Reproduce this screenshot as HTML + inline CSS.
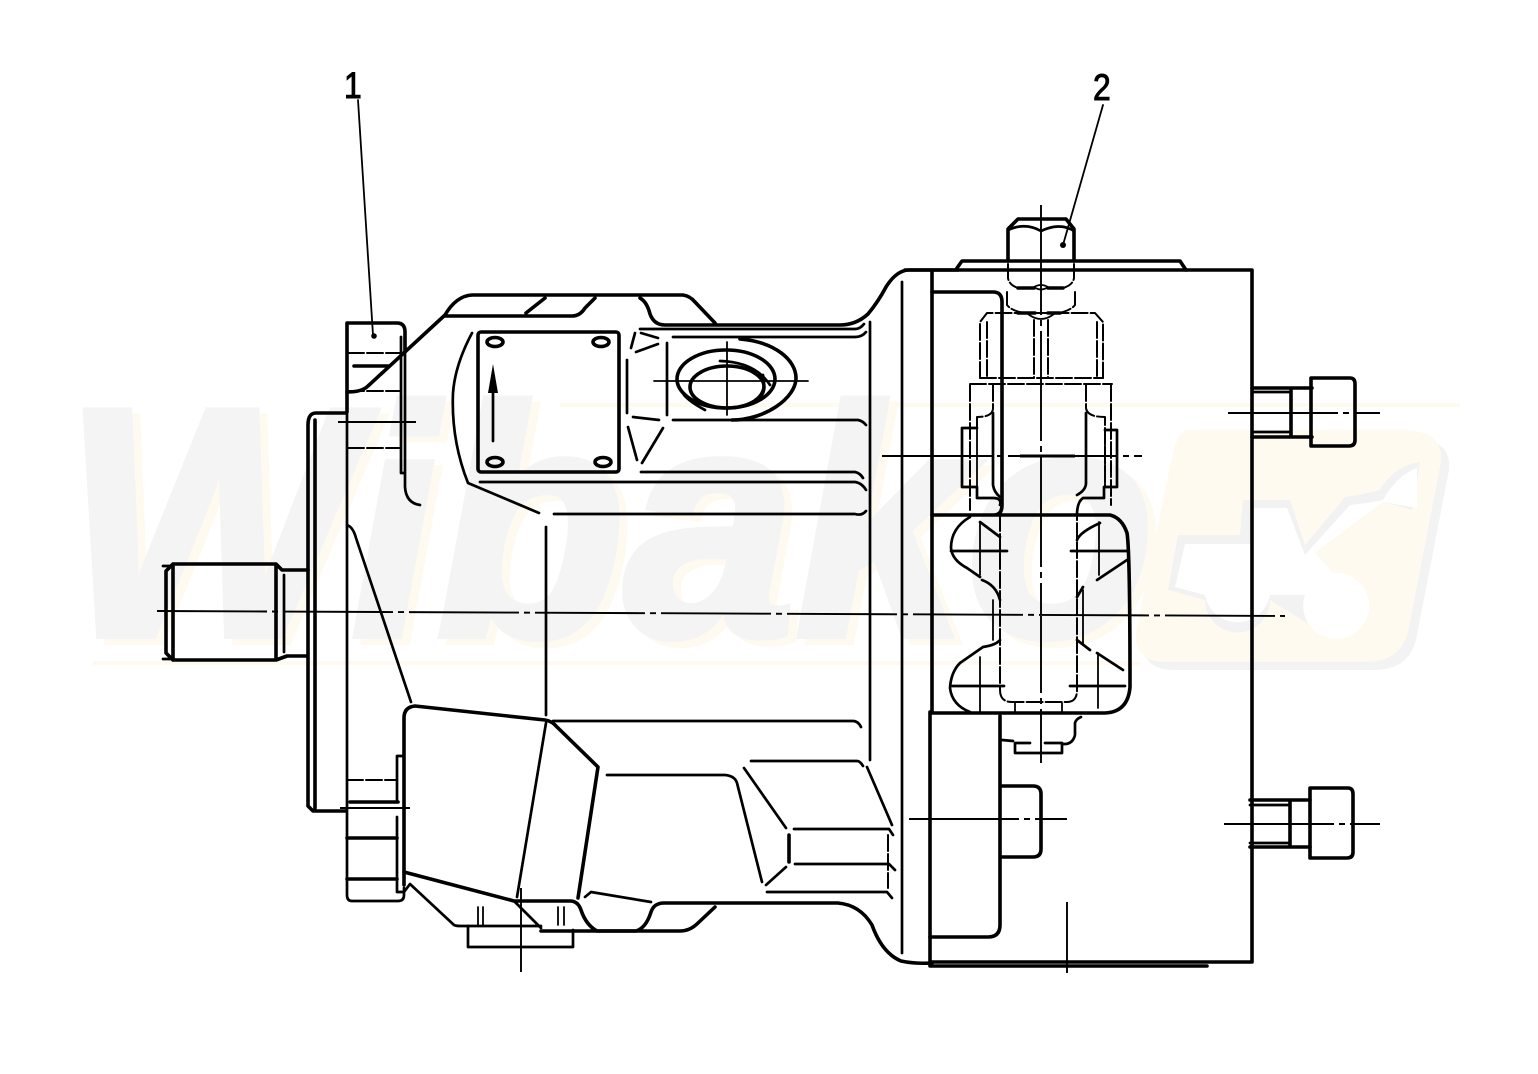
<!DOCTYPE html>
<html><head><meta charset="utf-8"><style>
html,body{margin:0;padding:0;background:#fff}
svg{display:block}
.t,.m,.h,.d{fill:none;stroke:#000;stroke-linecap:round;stroke-linejoin:round}
.t{stroke-width:3.6}.m{stroke-width:2.7}.h{stroke-width:1.8}
.d{stroke-width:2;stroke-dasharray:16 3}
.c{fill:none;stroke:#000;stroke-width:1.9;stroke-dasharray:110 5 6 5}
</style></head><body>
<svg width="1538" height="1074" viewBox="0 0 1538 1074" xmlns="http://www.w3.org/2000/svg">
<rect width="1538" height="1074" fill="#fff"/>
<!-- watermark -->
<g>
<path d="M560,405H1460M93,663H1140" stroke="#fffaf0" stroke-width="4" fill="none"/>
<text x="72" y="641" font-family="'Liberation Sans',sans-serif" font-weight="700" font-style="italic" font-size="325" textLength="1090" lengthAdjust="spacingAndGlyphs" fill="#fffaf0" stroke="#fffaf0" stroke-width="8">Wibako</text>
<text x="64" y="635" font-family="'Liberation Sans',sans-serif" font-weight="700" font-style="italic" font-size="325" textLength="1090" lengthAdjust="spacingAndGlyphs" fill="#f4f4f4" stroke="#f4f4f4" stroke-width="8">Wibako</text>
<path d="M1195,438H1410Q1452,438 1449,470L1416,640Q1408,670 1375,670H1175Q1138,670 1145,635L1180,465Q1186,438 1195,438Z" fill="#f3f3f3"/>
<path d="M1188,430H1402Q1444,430 1441,462L1408,632Q1400,662 1367,662H1167Q1130,662 1137,627L1172,457Q1178,430 1188,430Z" fill="#fffaf0"/>
<path d="M1168,590L1178,535H1240L1243,500H1290L1305,545L1345,497Q1370,493 1380,490Q1395,465 1420,462L1412,510L1383,502L1315,553L1333,573A33,33 0 0 1 1310,625L1270,600A32,32 0 0 1 1205,600Z" fill="#f2f2f2"/>
<path d="M1175,587L1185,544H1250L1250,508H1287L1305,555L1350,505Q1370,503 1383,500Q1397,475 1417,468V508L1383,502L1315,553L1333,573A33,33 0 1 1 1305,595H1270A33,33 0 0 1 1205,595Z" fill="#fff"/>
</g>

<!-- shaft -->
<path class="t" d="M173,564H276L282,570H308M173,660H276L287,656H307M173,564L166,571V653L173,660M173,564V660M276,564V660"/>
<path class="m" d="M284,575V652M163,566H173M163,659H173"/>
<!-- front flange -->
<path class="t" d="M346,413H316Q308,413 308,425V806L313,811H346M315,420V808"/>
<!-- mounting flange -->
<path class="t" d="M347,412V323H397Q405,323 405,332V352"/>
<path class="m" d="M347,412V895Q347,901 352,901H398Q404,901 404,895V888"/>
<path class="d" d="M348,353H401M348,391H400M348,448H400M347,780H397"/>
<path class="t" d="M354,366H388M350,802H398M347,838H397M347,879H397"/>
<path class="m" d="M401,337V473H405M405,340V487Q406,503 420,505"/>
<path class="m" d="M397,756H403M397,756V800M397,817V892H403"/>
<!-- top outline -->
<path class="t" d="M347,392Q362,392 368,386L445,315Q456,296 472,295H683Q690,296 695,302L715,323"/>
<path class="t" d="M445,316H572Q580,316 585,308L595,298M526,313L545,298M640,298Q647,302 650,314Q654,325 665,325H840Q856,325 868,314Q878,302 886,287Q896,271 908,270H958"/>
<path class="m" d="M640,329H855Q860,329 864,324M673,337H855Q862,337 866,332"/>
<path class="m" d="M870,322V760"/>
<path class="m" d="M902,282V953"/>
<!-- plate -->
<rect class="t" x="478" y="332" width="141" height="140" rx="3"/>
<ellipse class="t" cx="495" cy="342" rx="8" ry="4.5"/><ellipse class="t" cx="601" cy="342" rx="8" ry="4.5"/>
<ellipse class="t" cx="495" cy="462" rx="8" ry="4.5"/><ellipse class="t" cx="603" cy="462" rx="8" ry="4.5"/>
<path class="m" d="M493,385V441"/><path d="M493,364L488,393H498Z" fill="#000"/>
<path class="m" d="M472,333Q455,365 453,393Q451,440 468,483L539,513"/>
<path class="m" d="M480,482H855Q862,483 866,490M641,472H855Q860,473 863,478M554,514H855Q862,516 866,511M673,420H858Q863,421 866,425"/>
<path class="m" d="M546,527V715"/>
<!-- triangles -->
<path class="m" d="M635,333L631,348M641,333L658,338M636,352L658,344M627,360V413M667,343V415M633,417L659,420M628,427L637,460M663,428L642,463"/>
<!-- port -->
<path class="t" d="M740,339C775,342 796,360 796,378C796,398 765,420 732,420"/>
<ellipse class="t" cx="726" cy="379" rx="49" ry="29"/>
<path class="t" d="M690,387A37,21 0 1 1 764,387A37,21 0 1 1 690,387Z"/>
<path class="m" d="M720,361Q755,362 770,385M684,395Q690,402 705,410M755,400Q767,392 763,375"/>
<path class="h" d="M654,381H808M727,342V415"/>
<!-- lower left details -->
<path class="m" d="M347,525Q353,527 356,538L411,702"/>
<path class="t" d="M404,885V718Q404,707 415,706L545,720Q552,721 557,727L598,767L578,898"/>
<path class="m" d="M553,721H853Q858,721 861,727M607,775H725Q735,776 737,783L762,882M751,761H857Q860,761 863,766M744,768L786,828M766,885L786,867M867,767L892,825"/>
<path class="t" d="M789,835V862"/>
<path class="m" d="M794,829H889L893,835M795,864H889L895,870M767,892H887L892,898"/>
<path class="d" d="M888,835V888"/>
<path class="m" d="M546,723L517,897"/>
<path class="t" d="M404,872L514,901H570Q578,901 581,910Q586,925 597,931H636Q646,928 651,912Q654,903 664,903H838Q860,905 872,925Q882,953 901,961Q915,964 932,963"/>
<path class="m" d="M404,892L410,884L454,925Q456,926 460,926H541M515,902L541,928"/>
<path class="t" d="M541,931H680Q690,931 698,923L715,907"/>
<path class="m" d="M468,926V947H573V930"/>
<path class="m" d="M585,897L591,892L651,902"/>
<path class="h" d="M478,907V925M483,907V925M558,907V925M564,907V925"/>
<!-- right block -->
<path class="t" d="M905,270H1252V962H930M932,270V712M930,712V966H1207"/>
<path class="t" d="M932,292H993Q1002,292 1002,302V505Q1002,515 994,515H932M994,515H1110Q1122,518 1127,533Q1130,550 1130,687Q1128,712 1105,713H932"/>
<path class="t" d="M1000,716V925Q1000,937 988,937H930"/>
<path class="t" d="M1001,786H1033Q1041,786 1041,794V849Q1041,857 1033,857H1001"/>
<path d="M957,268L962,261H1180L1186,270" class="t"/>
<!-- bolt -->
<path class="t" d="M1008,261V229L1018,219H1066L1074,229V261"/>
<path class="m" d="M1008,230Q1025,222 1041,231Q1060,222 1074,231"/>
<path class="d" d="M1008,264V278Q1009,285 1018,288M1074,264V278Q1073,285 1063,288M1007,292V305Q1012,311 1024,313M1075,292V305Q1070,311 1058,313"/>
<path class="t" d="M1018,288H1034M1048,288H1063M1018,313H1035M1048,313H1060"/>
<path class="h" d="M1034,287Q1041,283 1048,287Q1041,292 1034,287ZM1028,314Q1041,324 1054,314"/>
<!-- hidden block -->
<path class="d" d="M980,378V322L987,313H1095L1103,322V378M987,322V378M1097,322V378M1034,320V378M1048,320V378"/>
<path class="d" d="M980,378H1103M970,384H1112"/>
<path class="d" d="M970,385V510M993,385V408Q993,417 977,417V428M1111,385V505M1086,385V408Q1087,417 1105,417V487"/>
<path class="m" d="M977,428H962V487H977V498H993Q1002,498 1000,505M993,413V485Q994,492 1000,497"/>
<path class="m" d="M1105,430H1117V487H1104V498H1083Q1077,502 1077,515M1086,413V483Q1086,490 1077,495"/>
<path class="h" d="M977,428V487M1105,430V487"/>
<!-- hourglass -->
<path class="m" d="M970,517Q951,528 951,548Q952,560 967,568L980,577M982,580Q996,585 1000,600M1000,640Q996,645 983,647L960,663Q951,672 950,688Q952,705 970,712M980,522L1000,537M1077,540Q1080,532 1100,523M1097,580L1127,560M1083,587L1077,597M1077,640L1090,650M1097,653L1123,670"/>
<path class="d" d="M1000,515V690Q1000,702 1012,702H1067Q1077,702 1077,690V515"/>
<path class="h" d="M993,600V640M1083,590V645M1015,703V712M1062,703V712"/>
<path class="h" d="M980,522V575M980,657V712M1099,522V575M1098,653V708"/>
<path class="m" d="M951,551H1007M1071,551H1128M952,686H1004M1070,686H1125"/>
<path class="m" d="M1002,740L1013,741M1015,743V753H1062V744L1066,744Q1073,743 1075,735V723Q1076,719 1081,717M1015,743H1030M1045,743H1062"/>
<!-- right fittings -->
<path class="t" d="M1252,388H1312M1252,437H1312M1291,388V437"/>
<path class="m" d="M1252,392H1291M1252,432H1291"/>
<path class="t" d="M1311,378H1350Q1355,378 1355,384V440Q1355,446 1349,446H1311Z"/>
<path class="t" d="M1250,800H1310M1250,847H1310M1290,800V847"/>
<path class="m" d="M1250,805H1290M1250,843H1290"/>
<path class="t" d="M1310,788H1348Q1353,788 1353,794V852Q1353,858 1347,858H1310Z"/>
<!-- center lines -->
<path class="c" d="M157,611L1285,616M1041,205V763M338,422H416M340,808H410M882,456H1142M909,819H1067M1067,902V973M521,888V972M1228,413H1380M1224,824H1380"/>
<path d="M1020,456H1075" stroke="#000" stroke-width="3"/>
<!-- leaders & labels -->
<path class="h" d="M358,100L373,335M1103,105L1063,245"/>
<circle cx="374" cy="336" r="2.8"/><circle cx="1063" cy="245" r="3"/>
<text x="343" y="98" font-family="'Liberation Sans',sans-serif" font-size="37" stroke="#000" stroke-width="1" transform="translate(49,0) scale(.86,1)">1</text>
<text x="1093" y="100" font-family="'Liberation Sans',sans-serif" font-size="37" stroke="#000" stroke-width="1" transform="translate(153,0) scale(.86,1)">2</text>
</svg>
</body></html>
